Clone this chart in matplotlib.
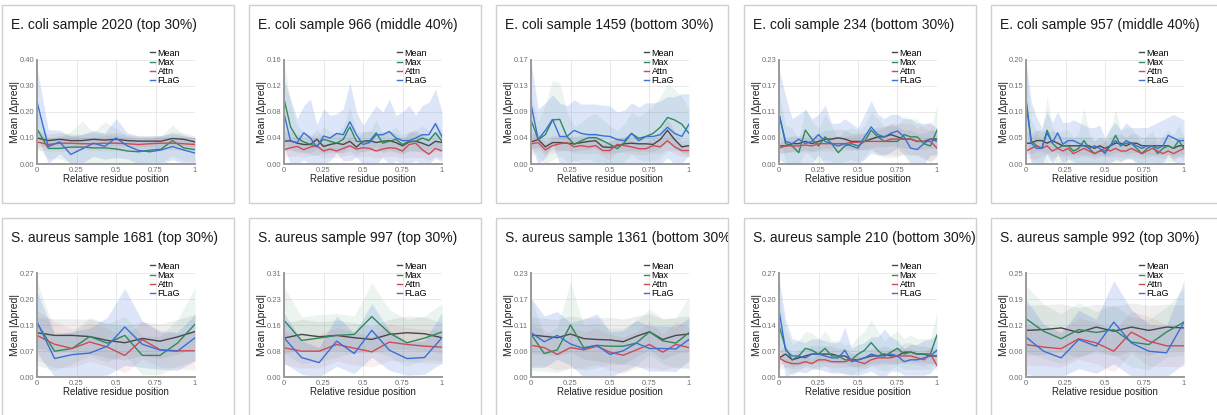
import numpy as np
import matplotlib.pyplot as plt
from matplotlib.patches import Rectangle

plt.rcParams['font.family'] = ['Liberation Sans', 'DejaVu Sans']

W, H = 1217, 415

TITLES = [
    "E. coli sample 2020 (top 30%)", "E. coli sample 966 (middle 40%)",
    "E. coli sample 1459 (bottom 30%)", "E. coli sample 234 (bottom 30%)",
    "E. coli sample 957 (middle 40%)",
    "S. aureus sample 1681 (top 30%)", "S. aureus sample 997 (top 30%)",
    "S. aureus sample 1361 (bottom 30%)", "S. aureus sample 210 (bottom 30%)",
    "S. aureus sample 992 (top 30%)",
]
YMAX = [0.40, 0.16, 0.17, 0.23, 0.20, 0.27, 0.31, 0.23, 0.272, 0.25]
YTICK_LABELS = [
    ["0.00", "0.10", "0.20", "0.30", "0.40"],
    ["0.00", "0.04", "0.08", "0.12", "0.16"],
    ["0.00", "0.04", "0.09", "0.13", "0.17"],
    ["0.00", "0.06", "0.11", "0.17", "0.23"],
    ["0.00", "0.05", "0.10", "0.15", "0.20"],
    ["0.00", "0.07", "0.13", "0.20", "0.27"],
    ["0.00", "0.08", "0.16", "0.23", "0.31"],
    ["0.00", "0.06", "0.11", "0.17", "0.23"],
    ["0.00", "0.07", "0.14", "0.20", "0.27"],
    ["0.00", "0.06", "0.12", "0.19", "0.25"],
]
XTICKS = [0, 0.25, 0.5, 0.75, 1]
XTICK_LABELS = ["0", "0.25", "0.5", "0.75", "1"]
METHODS = ["Mean", "Max", "Attn", "FLaG"]
COLORS = ["#484848", "#2e8a5a", "#cf4a52", "#3b6fd6"]

# E. coli 2020
EC2020_MEAN = [0.100, 0.090, 0.095, 0.090, 0.090, 0.095, 0.092, 0.095, 0.090, 0.088, 0.088, 0.088, 0.098, 0.095, 0.085]
EC2020_MAX = [0.135, 0.060, 0.060, 0.065, 0.065, 0.062, 0.062, 0.058, 0.050, 0.047, 0.053, 0.057, 0.090, 0.062, 0.055]
EC2020_ATTN = [0.085, 0.075, 0.080, 0.080, 0.078, 0.078, 0.080, 0.080, 0.078, 0.075, 0.078, 0.080, 0.080, 0.078, 0.075]
EC2020_FLAG = [0.240, 0.067, 0.085, 0.037, 0.058, 0.080, 0.068, 0.100, 0.070, 0.052, 0.047, 0.054, 0.067, 0.054, 0.042]
EC2020_MEAN_SD = [0.030, 0.025, 0.025, 0.025, 0.025, 0.025, 0.025, 0.025, 0.022, 0.022, 0.022, 0.022, 0.025, 0.025, 0.022]
EC2020_MAX_SD = [0.070, 0.040, 0.040, 0.060, 0.100, 0.060, 0.100, 0.080, 0.060, 0.050, 0.045, 0.050, 0.060, 0.050, 0.045]
EC2020_ATTN_SD = [0.030, 0.025, 0.030, 0.030, 0.025, 0.025, 0.030, 0.030, 0.025, 0.025, 0.025, 0.025, 0.025, 0.025, 0.025]
EC2020_FLAG_SD = [0.130, 0.065, 0.045, 0.070, 0.055, 0.050, 0.050, 0.075, 0.050, 0.055, 0.060, 0.055, 0.050, 0.055, 0.060]

# E. coli 966
EC966_MEAN = [0.035, 0.036, 0.032, 0.030, 0.030, 0.038, 0.027, 0.030, 0.032, 0.030, 0.035, 0.026, 0.035, 0.036, 0.033, 0.035, 0.036, 0.033, 0.028, 0.034, 0.035, 0.032, 0.028, 0.035, 0.033]
EC966_MAX = [0.100, 0.057, 0.040, 0.034, 0.030, 0.028, 0.038, 0.035, 0.032, 0.038, 0.057, 0.035, 0.034, 0.035, 0.048, 0.032, 0.035, 0.038, 0.030, 0.035, 0.035, 0.040, 0.036, 0.048, 0.035]
EC966_ATTN = [0.022, 0.025, 0.027, 0.022, 0.026, 0.028, 0.020, 0.023, 0.020, 0.024, 0.028, 0.023, 0.025, 0.024, 0.020, 0.023, 0.025, 0.024, 0.020, 0.030, 0.032, 0.022, 0.015, 0.024, 0.020]
EC966_FLAG = [0.078, 0.035, 0.033, 0.048, 0.040, 0.026, 0.043, 0.040, 0.047, 0.045, 0.065, 0.045, 0.030, 0.033, 0.045, 0.045, 0.050, 0.040, 0.036, 0.036, 0.040, 0.045, 0.045, 0.062, 0.042]
EC966_MEAN_SD = [0.015, 0.015, 0.014, 0.013, 0.013, 0.015, 0.012, 0.013, 0.014, 0.013, 0.015, 0.012, 0.015, 0.015, 0.014, 0.015, 0.015, 0.014, 0.012, 0.014, 0.015, 0.014, 0.012, 0.015, 0.014]
EC966_MAX_SD = [0.060, 0.035, 0.020, 0.015, 0.015, 0.015, 0.020, 0.015, 0.015, 0.020, 0.030, 0.015, 0.015, 0.015, 0.020, 0.015, 0.015, 0.020, 0.015, 0.015, 0.015, 0.020, 0.015, 0.020, 0.015]
EC966_ATTN_SD = [0.012, 0.013, 0.014, 0.012, 0.013, 0.014, 0.011, 0.012, 0.011, 0.012, 0.014, 0.012, 0.013, 0.012, 0.011, 0.012, 0.013, 0.012, 0.011, 0.020, 0.022, 0.012, 0.010, 0.012, 0.011]
EC966_FLAG_SD = [0.052, 0.065, 0.037, 0.042, 0.060, 0.034, 0.042, 0.035, 0.030, 0.040, 0.060, 0.035, 0.030, 0.042, 0.045, 0.035, 0.050, 0.035, 0.044, 0.054, 0.035, 0.045, 0.050, 0.053, 0.038]

# E. coli 1459
EC1459_MEAN = [0.036, 0.040, 0.028, 0.035, 0.035, 0.034, 0.033, 0.035, 0.037, 0.038, 0.028, 0.027, 0.030, 0.033, 0.034, 0.033, 0.033, 0.032, 0.040, 0.055, 0.040, 0.028, 0.030]
EC1459_MAX = [0.072, 0.040, 0.048, 0.072, 0.073, 0.045, 0.032, 0.038, 0.043, 0.043, 0.038, 0.032, 0.025, 0.035, 0.050, 0.042, 0.045, 0.050, 0.060, 0.076, 0.072, 0.065, 0.050]
EC1459_ATTN = [0.033, 0.035, 0.023, 0.030, 0.033, 0.035, 0.028, 0.030, 0.028, 0.030, 0.022, 0.022, 0.032, 0.030, 0.028, 0.025, 0.025, 0.030, 0.028, 0.038, 0.028, 0.022, 0.022]
EC1459_FLAG = [0.098, 0.040, 0.055, 0.073, 0.045, 0.045, 0.055, 0.050, 0.048, 0.048, 0.046, 0.045, 0.040, 0.038, 0.050, 0.038, 0.045, 0.045, 0.048, 0.060, 0.050, 0.045, 0.065]
EC1459_MEAN_SD = [0.012, 0.012, 0.010, 0.012, 0.012, 0.012, 0.012, 0.012, 0.013, 0.013, 0.010, 0.010, 0.011, 0.012, 0.012, 0.012, 0.012, 0.012, 0.014, 0.018, 0.014, 0.010, 0.011]
EC1459_MAX_SD = [0.040, 0.030, 0.050, 0.065, 0.060, 0.040, 0.030, 0.030, 0.035, 0.040, 0.035, 0.030, 0.030, 0.030, 0.035, 0.035, 0.040, 0.045, 0.050, 0.055, 0.050, 0.045, 0.040]
EC1459_ATTN_SD = [0.020, 0.012, 0.010, 0.012, 0.012, 0.012, 0.011, 0.012, 0.011, 0.012, 0.010, 0.015, 0.012, 0.012, 0.011, 0.010, 0.010, 0.012, 0.011, 0.014, 0.011, 0.010, 0.010]
EC1459_FLAG_SD = [0.070, 0.050, 0.045, 0.040, 0.055, 0.050, 0.050, 0.048, 0.050, 0.050, 0.050, 0.050, 0.045, 0.050, 0.050, 0.055, 0.055, 0.055, 0.055, 0.050, 0.060, 0.070, 0.050]

# E. coli 234
EC234_MEAN = [0.040, 0.040, 0.045, 0.045, 0.050, 0.045, 0.050, 0.055, 0.055, 0.058, 0.055, 0.050, 0.050, 0.050, 0.055, 0.060, 0.060, 0.065, 0.060, 0.055, 0.055, 0.050, 0.050, 0.055, 0.055]
EC234_MAX = [0.112, 0.045, 0.040, 0.025, 0.075, 0.055, 0.040, 0.060, 0.045, 0.025, 0.040, 0.045, 0.040, 0.050, 0.075, 0.060, 0.050, 0.050, 0.050, 0.065, 0.060, 0.060, 0.045, 0.040, 0.075]
EC234_ATTN = [0.035, 0.040, 0.040, 0.040, 0.042, 0.040, 0.045, 0.045, 0.045, 0.045, 0.045, 0.048, 0.048, 0.050, 0.050, 0.050, 0.050, 0.055, 0.055, 0.055, 0.055, 0.050, 0.050, 0.050, 0.035]
EC234_FLAG = [0.110, 0.050, 0.045, 0.055, 0.045, 0.050, 0.065, 0.050, 0.045, 0.040, 0.045, 0.040, 0.035, 0.060, 0.082, 0.065, 0.060, 0.068, 0.073, 0.060, 0.035, 0.032, 0.045, 0.055, 0.050]
EC234_MEAN_SD = [0.015, 0.015, 0.017, 0.017, 0.018, 0.017, 0.018, 0.020, 0.020, 0.020, 0.020, 0.018, 0.018, 0.018, 0.020, 0.022, 0.022, 0.024, 0.022, 0.020, 0.020, 0.018, 0.018, 0.020, 0.020]
EC234_MAX_SD = [0.050, 0.040, 0.040, 0.030, 0.050, 0.040, 0.040, 0.050, 0.040, 0.030, 0.035, 0.035, 0.035, 0.035, 0.040, 0.040, 0.035, 0.035, 0.035, 0.040, 0.040, 0.040, 0.035, 0.035, 0.055]
EC234_ATTN_SD = [0.012, 0.014, 0.014, 0.014, 0.015, 0.014, 0.016, 0.016, 0.016, 0.016, 0.016, 0.017, 0.017, 0.018, 0.020, 0.025, 0.030, 0.035, 0.035, 0.035, 0.035, 0.030, 0.035, 0.045, 0.020]
EC234_FLAG_SD = [0.100, 0.100, 0.055, 0.055, 0.075, 0.050, 0.045, 0.080, 0.045, 0.050, 0.055, 0.050, 0.045, 0.050, 0.058, 0.045, 0.040, 0.042, 0.037, 0.040, 0.065, 0.058, 0.045, 0.035, 0.030]

# E. coli 957
EC957_MEAN = [0.040, 0.040, 0.045, 0.045, 0.040, 0.045, 0.040, 0.035, 0.035, 0.035, 0.035, 0.035, 0.035, 0.030, 0.035, 0.030, 0.035, 0.040, 0.040, 0.035, 0.040, 0.040, 0.035, 0.035, 0.035, 0.035, 0.035, 0.035, 0.030, 0.035, 0.035]
EC957_MAX = [0.125, 0.045, 0.035, 0.030, 0.065, 0.040, 0.030, 0.035, 0.035, 0.025, 0.030, 0.045, 0.030, 0.020, 0.025, 0.025, 0.035, 0.055, 0.035, 0.040, 0.040, 0.030, 0.020, 0.030, 0.035, 0.020, 0.030, 0.035, 0.030, 0.045, 0.030]
EC957_ATTN = [0.025, 0.030, 0.035, 0.030, 0.035, 0.025, 0.030, 0.025, 0.030, 0.020, 0.025, 0.030, 0.025, 0.020, 0.025, 0.030, 0.025, 0.030, 0.025, 0.025, 0.030, 0.025, 0.020, 0.025, 0.030, 0.025, 0.020, 0.025, 0.020, 0.025, 0.030]
EC957_FLAG = [0.120, 0.040, 0.030, 0.030, 0.060, 0.040, 0.060, 0.038, 0.045, 0.045, 0.040, 0.035, 0.030, 0.035, 0.030, 0.020, 0.035, 0.045, 0.035, 0.045, 0.040, 0.035, 0.030, 0.035, 0.035, 0.030, 0.035, 0.055, 0.050, 0.045, 0.045]
EC957_MEAN_SD = [0.020, 0.020, 0.020, 0.020, 0.020, 0.020, 0.018, 0.017, 0.017, 0.017, 0.017, 0.017, 0.017, 0.015, 0.017, 0.015, 0.017, 0.018, 0.018, 0.017, 0.018, 0.018, 0.017, 0.017, 0.017, 0.017, 0.017, 0.017, 0.015, 0.017, 0.017]
EC957_MAX_SD = [0.060, 0.040, 0.030, 0.030, 0.065, 0.030, 0.030, 0.030, 0.030, 0.025, 0.030, 0.065, 0.030, 0.025, 0.025, 0.025, 0.030, 0.050, 0.030, 0.030, 0.030, 0.025, 0.020, 0.025, 0.030, 0.020, 0.025, 0.030, 0.025, 0.030, 0.025]
EC957_ATTN_SD = [0.015, 0.020, 0.025, 0.015, 0.015, 0.012, 0.015, 0.012, 0.015, 0.010, 0.012, 0.015, 0.012, 0.010, 0.012, 0.015, 0.012, 0.015, 0.012, 0.012, 0.015, 0.012, 0.010, 0.012, 0.015, 0.012, 0.010, 0.012, 0.010, 0.012, 0.015]
EC957_FLAG_SD = [0.080, 0.080, 0.060, 0.040, 0.040, 0.040, 0.040, 0.042, 0.035, 0.040, 0.040, 0.040, 0.040, 0.035, 0.045, 0.030, 0.035, 0.035, 0.030, 0.035, 0.030, 0.035, 0.040, 0.035, 0.040, 0.050, 0.050, 0.035, 0.045, 0.045, 0.040]

# S. aureus 1681
SA1681_MEAN = [0.115, 0.108, 0.108, 0.105, 0.095, 0.089, 0.100, 0.093, 0.104, 0.118]
SA1681_MAX = [0.140, 0.067, 0.074, 0.105, 0.088, 0.108, 0.056, 0.056, 0.088, 0.137]
SA1681_ATTN = [0.108, 0.085, 0.074, 0.091, 0.078, 0.056, 0.097, 0.071, 0.068, 0.068]
SA1681_FLAG = [0.143, 0.048, 0.058, 0.062, 0.080, 0.130, 0.085, 0.070, 0.067, 0.102]
SA1681_MEAN_SD = [0.040, 0.043, 0.043, 0.045, 0.045, 0.045, 0.043, 0.045, 0.045, 0.045]
SA1681_MAX_SD = [0.110, 0.050, 0.040, 0.050, 0.050, 0.050, 0.050, 0.050, 0.060, 0.095]
SA1681_ATTN_SD = [0.065, 0.060, 0.050, 0.050, 0.050, 0.045, 0.050, 0.045, 0.045, 0.050]
SA1681_FLAG_SD = [0.080, 0.060, 0.060, 0.065, 0.075, 0.100, 0.060, 0.050, 0.050, 0.060]

# S. aureus 997
SA997_MEAN = [0.116, 0.127, 0.120, 0.124, 0.117, 0.112, 0.127, 0.132, 0.129, 0.117]
SA997_MAX = [0.169, 0.109, 0.116, 0.124, 0.127, 0.180, 0.131, 0.102, 0.116, 0.134]
SA997_ATTN = [0.087, 0.077, 0.077, 0.097, 0.086, 0.075, 0.104, 0.097, 0.092, 0.089]
SA997_FLAG = [0.117, 0.058, 0.043, 0.107, 0.070, 0.139, 0.080, 0.055, 0.058, 0.117]
SA997_MEAN_SD = [0.045, 0.045, 0.045, 0.045, 0.045, 0.040, 0.045, 0.050, 0.050, 0.045]
SA997_MAX_SD = [0.100, 0.070, 0.070, 0.065, 0.055, 0.100, 0.070, 0.070, 0.065, 0.085]
SA997_ATTN_SD = [0.050, 0.050, 0.050, 0.050, 0.050, 0.045, 0.055, 0.050, 0.050, 0.050]
SA997_FLAG_SD = [0.075, 0.050, 0.045, 0.075, 0.060, 0.080, 0.060, 0.050, 0.050, 0.075]

# S. aureus 1361
SA1361_MEAN = [0.093, 0.090, 0.087, 0.095, 0.085, 0.083, 0.082, 0.078, 0.090, 0.100, 0.083, 0.092, 0.095]
SA1361_MAX = [0.095, 0.052, 0.060, 0.115, 0.065, 0.070, 0.068, 0.068, 0.075, 0.100, 0.080, 0.075, 0.098]
SA1361_ATTN = [0.070, 0.065, 0.050, 0.065, 0.060, 0.068, 0.055, 0.048, 0.060, 0.072, 0.055, 0.072, 0.065]
SA1361_FLAG = [0.098, 0.078, 0.092, 0.073, 0.063, 0.070, 0.050, 0.058, 0.075, 0.063, 0.063, 0.062, 0.083]
SA1361_MEAN_SD = [0.040, 0.040, 0.040, 0.040, 0.045, 0.048, 0.050, 0.050, 0.045, 0.040, 0.045, 0.040, 0.040]
SA1361_MAX_SD = [0.080, 0.040, 0.050, 0.095, 0.050, 0.050, 0.040, 0.040, 0.050, 0.050, 0.050, 0.055, 0.080]
SA1361_ATTN_SD = [0.045, 0.040, 0.035, 0.045, 0.040, 0.040, 0.040, 0.040, 0.040, 0.050, 0.040, 0.050, 0.045]
SA1361_FLAG_SD = [0.077, 0.057, 0.053, 0.047, 0.065, 0.070, 0.050, 0.045, 0.050, 0.050, 0.050, 0.050, 0.047]

# S. aureus 210
SA210_MEAN = [0.050, 0.060, 0.045, 0.050, 0.055, 0.060, 0.060, 0.060, 0.060, 0.055, 0.055, 0.045, 0.045, 0.050, 0.055, 0.055, 0.060, 0.055, 0.055, 0.065, 0.065, 0.060, 0.060, 0.055, 0.055]
SA210_MAX = [0.135, 0.075, 0.045, 0.055, 0.075, 0.070, 0.060, 0.075, 0.055, 0.055, 0.045, 0.045, 0.060, 0.070, 0.090, 0.070, 0.055, 0.065, 0.075, 0.060, 0.065, 0.060, 0.060, 0.060, 0.110]
SA210_ATTN = [0.050, 0.040, 0.035, 0.035, 0.040, 0.035, 0.045, 0.045, 0.040, 0.040, 0.040, 0.045, 0.040, 0.035, 0.045, 0.050, 0.050, 0.050, 0.055, 0.055, 0.055, 0.050, 0.045, 0.060, 0.030]
SA210_FLAG = [0.175, 0.070, 0.055, 0.055, 0.050, 0.060, 0.060, 0.055, 0.050, 0.050, 0.070, 0.040, 0.045, 0.050, 0.060, 0.055, 0.055, 0.060, 0.055, 0.040, 0.045, 0.045, 0.050, 0.055, 0.070]
SA210_MEAN_SD = [0.020, 0.022, 0.018, 0.020, 0.020, 0.022, 0.022, 0.022, 0.022, 0.020, 0.020, 0.018, 0.018, 0.020, 0.020, 0.020, 0.022, 0.020, 0.020, 0.024, 0.024, 0.022, 0.022, 0.020, 0.020]
SA210_MAX_SD = [0.090, 0.050, 0.040, 0.040, 0.045, 0.045, 0.040, 0.045, 0.040, 0.040, 0.040, 0.040, 0.045, 0.050, 0.060, 0.050, 0.040, 0.045, 0.045, 0.040, 0.045, 0.040, 0.040, 0.040, 0.060]
SA210_ATTN_SD = [0.030, 0.015, 0.013, 0.013, 0.015, 0.013, 0.017, 0.017, 0.015, 0.015, 0.015, 0.017, 0.015, 0.013, 0.017, 0.018, 0.018, 0.018, 0.020, 0.020, 0.020, 0.018, 0.017, 0.022, 0.012]
SA210_FLAG_SD = [0.085, 0.080, 0.045, 0.040, 0.040, 0.040, 0.040, 0.040, 0.040, 0.040, 0.060, 0.035, 0.040, 0.040, 0.045, 0.050, 0.070, 0.045, 0.040, 0.035, 0.040, 0.040, 0.045, 0.045, 0.040]

# S. aureus 992
SA992_MEAN = [0.112, 0.114, 0.118, 0.107, 0.120, 0.110, 0.120, 0.112, 0.120, 0.118]
SA992_MAX = [0.140, 0.110, 0.092, 0.114, 0.107, 0.114, 0.084, 0.078, 0.108, 0.132]
SA992_ATTN = [0.078, 0.072, 0.068, 0.092, 0.082, 0.062, 0.108, 0.086, 0.075, 0.075]
SA992_FLAG = [0.096, 0.062, 0.046, 0.090, 0.074, 0.132, 0.082, 0.062, 0.058, 0.132]
SA992_MEAN_SD = [0.060, 0.060, 0.058, 0.060, 0.055, 0.060, 0.058, 0.060, 0.055, 0.055]
SA992_MAX_SD = [0.080, 0.065, 0.060, 0.065, 0.050, 0.060, 0.060, 0.060, 0.060, 0.080]
SA992_ATTN_SD = [0.050, 0.045, 0.045, 0.050, 0.050, 0.050, 0.050, 0.060, 0.050, 0.050]
SA992_FLAG_SD = [0.090, 0.065, 0.060, 0.070, 0.065, 0.100, 0.080, 0.065, 0.065, 0.100]

PANELS = [
    ([EC2020_MEAN, EC2020_MAX, EC2020_ATTN, EC2020_FLAG], [EC2020_MEAN_SD, EC2020_MAX_SD, EC2020_ATTN_SD, EC2020_FLAG_SD]),
    ([EC966_MEAN, EC966_MAX, EC966_ATTN, EC966_FLAG], [EC966_MEAN_SD, EC966_MAX_SD, EC966_ATTN_SD, EC966_FLAG_SD]),
    ([EC1459_MEAN, EC1459_MAX, EC1459_ATTN, EC1459_FLAG], [EC1459_MEAN_SD, EC1459_MAX_SD, EC1459_ATTN_SD, EC1459_FLAG_SD]),
    ([EC234_MEAN, EC234_MAX, EC234_ATTN, EC234_FLAG], [EC234_MEAN_SD, EC234_MAX_SD, EC234_ATTN_SD, EC234_FLAG_SD]),
    ([EC957_MEAN, EC957_MAX, EC957_ATTN, EC957_FLAG], [EC957_MEAN_SD, EC957_MAX_SD, EC957_ATTN_SD, EC957_FLAG_SD]),
    ([SA1681_MEAN, SA1681_MAX, SA1681_ATTN, SA1681_FLAG], [SA1681_MEAN_SD, SA1681_MAX_SD, SA1681_ATTN_SD, SA1681_FLAG_SD]),
    ([SA997_MEAN, SA997_MAX, SA997_ATTN, SA997_FLAG], [SA997_MEAN_SD, SA997_MAX_SD, SA997_ATTN_SD, SA997_FLAG_SD]),
    ([SA1361_MEAN, SA1361_MAX, SA1361_ATTN, SA1361_FLAG], [SA1361_MEAN_SD, SA1361_MAX_SD, SA1361_ATTN_SD, SA1361_FLAG_SD]),
    ([SA210_MEAN, SA210_MAX, SA210_ATTN, SA210_FLAG], [SA210_MEAN_SD, SA210_MAX_SD, SA210_ATTN_SD, SA210_FLAG_SD]),
    ([SA992_MEAN, SA992_MAX, SA992_ATTN, SA992_FLAG], [SA992_MEAN_SD, SA992_MAX_SD, SA992_ATTN_SD, SA992_FLAG_SD]),
]

# card layout in pixels
CARD_LEFT = [2, 249, 496, 744, 991]
CARD_TOP = [5, 218]
CARD_W, CARD_H = 232, 198

fig = plt.figure(figsize=(W / 100, H / 100), dpi=100)

for k, (vals, sds) in enumerate(PANELS):
    row, col = divmod(k, 5)
    cl, ct = CARD_LEFT[col], CARD_TOP[row]

    card = Rectangle((cl / W, 1 - (ct + CARD_H) / H), CARD_W / W, CARD_H / H,
                     transform=fig.transFigure, fill=False,
                     edgecolor="#cfcfcf", lw=1.0)
    fig.add_artist(card)
    t = fig.text((cl + 9) / W, 1 - (ct + 20) / H, TITLES[k], fontsize=10,
                 ha="left", va="center", color="#1a1a1a")
    t.set_clip_path(card)

    ax = fig.add_axes([(cl + 35) / W, 1 - (ct + 55 + 104) / H, 158 / W, 104 / H])
    ymax = YMAX[k]

    # shaded spread first, lines on top
    for name, v, sd, c in zip(METHODS, vals, sds, COLORS):
        v = np.array(v)
        sd = np.array(sd)
        x = np.linspace(0, 1, len(v))
        a = 0.17 if name == "FLaG" else 0.09
        ax.fill_between(x, np.clip(v - sd, 0, None), v + sd, color=c,
                        alpha=a, lw=0)
    for name, v, c in zip(METHODS, vals, COLORS):
        x = np.linspace(0, 1, len(v))
        ax.plot(x, v, color=c, lw=1.0, label=name)

    ax.set_xlim(0, 1)
    ax.set_ylim(0, ymax)
    ax.set_xticks(XTICKS)
    ax.set_xticklabels(XTICK_LABELS)
    ax.set_yticks(np.linspace(0, ymax, 5))
    ax.set_yticklabels(YTICK_LABELS[k])
    ax.tick_params(length=0, labelsize=5.5, colors="#707070", pad=2)
    ax.grid(True, color="#e6e6e6", lw=0.6)
    ax.set_axisbelow(True)
    for s in ["top", "right"]:
        ax.spines[s].set_visible(False)
    for s in ["left", "bottom"]:
        ax.spines[s].set_color("#9a9a9a")
        ax.spines[s].set_linewidth(1.4)

    ax.set_xlabel("Relative residue position", fontsize=7, color="#222222",
                  labelpad=0)
    ax.set_ylabel("Mean |Δpred|", fontsize=7.5, color="#222222")
    ax.yaxis.set_label_coords(-0.105, 0.5)

    ax.legend(loc="upper left", bbox_to_anchor=(0.715, 1.11), frameon=False,
              fontsize=6.5, handlelength=0.6, handletextpad=0.25,
              labelspacing=0.02, borderpad=0, borderaxespad=0)

fig.savefig("out.png", dpi=100)
